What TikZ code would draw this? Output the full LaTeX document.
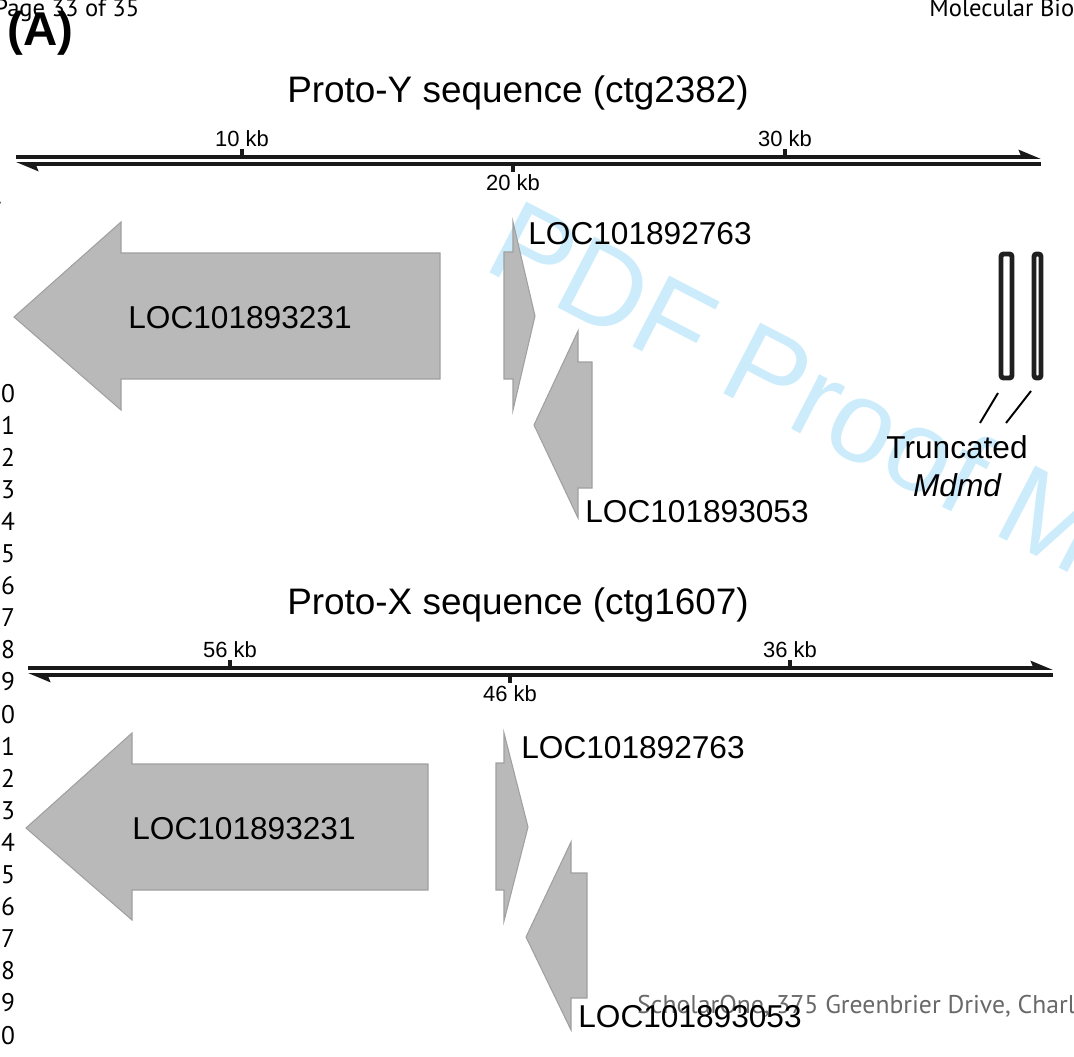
\documentclass[tikz,border=0pt]{standalone}
\usepackage{fontspec}
\setmainfont{Liberation Sans}
\newfontfamily\proofpagefont{PT Sans}
\usetikzlibrary{arrows.meta,calc,positioning}
\definecolor{genegray}{RGB}{185,185,185}
\definecolor{geneedge}{RGB}{160,160,160}
\definecolor{proofblue}{RGB}{204,236,252}
\definecolor{footergray}{RGB}{105,105,105}
\tikzset{
  gene shape/.style={fill=genegray,draw=geneedge,line width=0.6pt,
    line join=miter},
  gene label/.style={inner sep=0pt,font=\fontsize{18}{20}\selectfont},
  strand line/.style={line width=2.1pt,draw=black!90,
    -{Stealth[harpoon,length=10pt,width=8pt,inset=1.5pt]}},
  scale tick/.style={line width=1.8pt,draw=black!90},
  scale label/.style={inner sep=0pt,anchor=base,
    font=\fontsize{12.5}{14}\selectfont},
  sequence title/.style={inner sep=0pt,anchor=base,
    font=\fontsize{21}{24}\selectfont},
  mdmd box/.style={draw=black!88,fill=white,line width=2.8pt,
    rounded corners=1.5pt},
  mdmd pointer/.style={line width=1.1pt},
  proof text/.style={inner sep=0pt,anchor=base west,
    font=\proofpagefont\fontsize{14}{16}\selectfont},
  line number/.style={inner sep=0pt,anchor=base west,
    font=\proofpagefont\fontsize{14.5}{16}\selectfont}
}
\begin{document}
\begin{tikzpicture}[x=0.02cm,y=-0.02cm]
  \useasboundingbox (0,0) rectangle (1074,1057);
  % proof watermark, behind everything
  \node[rotate=-27.4,anchor=base west,inner sep=0pt,text=proofblue,
    font=\fontsize{66}{70}\selectfont] (proofmark) at (481,268) {PDF Proof M};
  % page furniture
  \node[proof text] (pagecount) at (-6,17) {Page 33 of 35};
  \node[proof text] (journalname) at (929,17) {Molecular Bio};
  \foreach \n in {1,...,31}
    \node[line number] (linenum\n) at (-13,{402+(\n-10)*32.1}) {\n};
  \node[proof text,text=footergray,font=\proofpagefont\fontsize{14.6}{18}\selectfont]
    (publisher) at (637,1013) {ScholarOne, 375 Greenbrier Drive, Charl};
  \node[inner sep=0pt,anchor=base west,font=\bfseries\fontsize{27}{30}\selectfont]
    (panela) at (7,46) {(A)};

  % Proto-Y
  \node[sequence title] (protoytitle) at (518,103) {Proto-Y sequence (ctg2382)};
  \coordinate (protoyfwdstart) at (16,157);
  \coordinate (protoyfwdend) at (1041,157);
  \coordinate (protoyrevstart) at (1041,164);
  \coordinate (protoyrevend) at (16,164);
  \draw[strand line] (protoyfwdstart) -- (protoyfwdend);
  \draw[strand line] (protoyrevstart) -- (protoyrevend);
  \draw[scale tick] (242,157) -- (242,149);
  \draw[scale tick] (785,157) -- (785,149);
  \draw[scale tick] (513,164) -- (513,172);
  \node[scale label] (protoytenkb) at (242,147) {10 kb};
  \node[scale label] (protoythirtykb) at (785,147) {30 kb};
  \node[scale label] (protoytwentykb) at (513,191) {20 kb};
  \draw[gene shape] (14,317) -- (121,222) -- (121,253) -- (440,253)
    -- (440,379) -- (121,379) -- (121,410) -- cycle;
  \draw[gene shape] (535,316) -- (513,410) -- (513,379) -- (504,379)
    -- (504,252) -- (513,252) -- (513,222) -- cycle;
  \draw[gene shape] (534,425) -- (578,331) -- (578,362) -- (592,362)
    -- (592,488) -- (578,488) -- (578,518) -- cycle;
  \node[gene label] (protoybiggene) at (240,318) {LOC101893231};
  \node[gene label,anchor=west] (protoyfwdgene) at (528,234) {LOC101892763};
  \node[gene label,anchor=west] (protoyrevgene) at (585,512) {LOC101893053};
  % truncated Mdmd copies
  \draw[mdmd box] (1001,254) rectangle (1012,378);
  \draw[mdmd box] (1034,254) rectangle (1041,378);
  \coordinate (mdmdonefoot) at (998,393);
  \coordinate (mdmdonelead) at (980,423);
  \coordinate (mdmdtwofoot) at (1031,391);
  \coordinate (mdmdtwolead) at (1006,423);
  \draw[mdmd pointer] (mdmdonefoot) -- (mdmdonelead);
  \draw[mdmd pointer] (mdmdtwofoot) -- (mdmdtwolead);
  \node[gene label] (truncword) at (957,447) {Truncated};
  \node[gene label,font=\itshape\fontsize{18}{20}\selectfont]
    (mdmdword) at (957,485) {Mdmd};

  % Proto-X
  \node[sequence title] (protoxtitle) at (518,614) {Proto-X sequence (ctg1607)};
  \coordinate (protoxfwdstart) at (28,668);
  \coordinate (protoxfwdend) at (1053,668);
  \coordinate (protoxrevstart) at (1053,675);
  \coordinate (protoxrevend) at (28,675);
  \draw[strand line] (protoxfwdstart) -- (protoxfwdend);
  \draw[strand line] (protoxrevstart) -- (protoxrevend);
  \draw[scale tick] (230,668) -- (230,660);
  \draw[scale tick] (790,668) -- (790,660);
  \draw[scale tick] (510,675) -- (510,683);
  \node[scale label] (protoxfiftysixkb) at (230,657) {56 kb};
  \node[scale label] (protoxthirtysixkb) at (790,657) {36 kb};
  \node[scale label] (protoxfortysixkb) at (510,701) {46 kb};
  \draw[gene shape] (26,828) -- (132,733) -- (132,764) -- (428,764)
    -- (428,890) -- (132,890) -- (132,920) -- cycle;
  \draw[gene shape] (528,827) -- (504,921) -- (504,890) -- (496,890)
    -- (496,763) -- (504,763) -- (504,733) -- cycle;
  \draw[gene shape] (526,937) -- (571,842) -- (571,873) -- (587,873)
    -- (587,998) -- (571,998) -- (571,1030) -- cycle;
  \node[gene label] (protoxbiggene) at (244,829) {LOC101893231};
  \node[gene label,anchor=west] (protoxfwdgene) at (521,748) {LOC101892763};
  \node[gene label,anchor=west] (protoxrevgene) at (578,1017) {LOC101893053};
\end{tikzpicture}
\end{document}
